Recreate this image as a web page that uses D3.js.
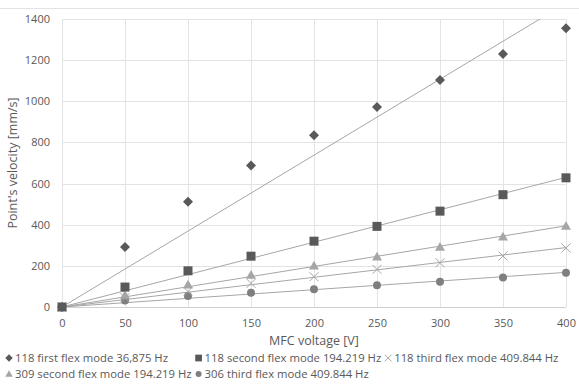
<!DOCTYPE html>
<html><head><meta charset="utf-8">
<script src="https://cdn.jsdelivr.net/npm/d3@7"></script>
<style>
body{margin:0;background:#fff;}
text{font-family:"Open Sans","Liberation Sans",sans-serif;fill:#595959;}
</style></head>
<body><svg id="c" width="579" height="387"></svg>
<script>
const voltages = [0, 50, 100, 150, 200, 250, 300, 350, 400];
const s118first  = [0, 292, 512, 688, 835, 972, 1103, 1230, 1355];
const s118second = [0, 97, 176, 247, 320, 392, 466, 546, 628];
const s118third  = [0, 45, 75, 115, 147, 183, 215, 248, 287];
const s309second = [0, 58, 108, 155, 200, 244, 292, 342, 394];
const s306third  = [0, 31, 54, 69, 86, 106, 123, 144, 166];
const xTicks = [0, 50, 100, 150, 200, 250, 300, 350, 400];
const yTicks = [0, 200, 400, 600, 800, 1000, 1200, 1400];
const seriesNames = ["118 first flex mode 36,875 Hz","118 second flex mode 194.219 Hz","118 third flex mode 409.844 Hz","309 second flex mode 194.219 Hz","306 third flex mode 409.844 Hz"];

const series = [
  {name:seriesNames[0], vals:s118first, sym:"diamond", r:5, color:"#595959"},
  {name:seriesNames[1], vals:s118second, sym:"square", r:4.5, color:"#595959"},
  {name:seriesNames[2], vals:s118third, sym:"x", r:4.5, color:"#a6a6a6"},
  {name:seriesNames[3], vals:s309second, sym:"triangle", r:5, color:"#a6a6a6"},
  {name:seriesNames[4], vals:s306third, sym:"circle", r:4, color:"#7f7f7f"}
];

const svg = d3.select("#c");
const m = {l:62, r:13, t:19, b:80};
const W = 579, H = 387;
const x = d3.scaleLinear().domain([0,400]).range([m.l, W-m.r]);
const y = d3.scaleLinear().domain([0,1400]).range([H-m.b, m.t]);

svg.append("line").attr("x1",0).attr("x2",W).attr("y1",8.5).attr("y2",8.5).attr("stroke","#e3e3e3");

svg.append("defs").append("clipPath").attr("id","clip").append("rect")
  .attr("x",m.l).attr("y",m.t).attr("width",W-m.r-m.l).attr("height",H-m.b-m.t);

svg.append("g").selectAll("line").data(yTicks).join("line")
  .attr("x1",m.l).attr("x2",W-m.r).attr("y1",d=>Math.round(y(d))+0.5).attr("y2",d=>Math.round(y(d))+0.5)
  .attr("stroke",d=>d===0?"#d0d0d0":"#e3e3e3");
svg.append("g").selectAll("line").data(xTicks).join("line")
  .attr("y1",m.t).attr("y2",H-m.b).attr("x1",d=>Math.round(x(d))+0.5).attr("x2",d=>Math.round(x(d))+0.5)
  .attr("stroke","#e3e3e3");

const xa = svg.append("g").attr("transform",`translate(0,${H-m.b})`)
  .call(d3.axisBottom(x).tickValues(xTicks).tickFormat(d3.format("d")).tickSize(0).tickPadding(12));
xa.select(".domain").remove();
xa.selectAll("text").style("font-size","11px").attr("fill","#595959");
const ya = svg.append("g").attr("transform",`translate(${m.l},0)`)
  .call(d3.axisLeft(y).tickValues(yTicks).tickFormat(d3.format("d")).tickSize(0).tickPadding(12));
ya.select(".domain").remove();
ya.selectAll("text").style("font-size","11px").attr("fill","#595959");

svg.append("text").attr("x",(m.l+W-m.r)/2).attr("y",345).attr("text-anchor","middle")
  .style("font-size","12.5px").text("MFC voltage [V]");
svg.append("text").attr("transform",`translate(17,${(m.t+H-m.b)/2}) rotate(-90)`).attr("text-anchor","middle")
  .style("font-size","12.5px").text("Point's velocity [mm/s]");

// trendlines (linear, zero intercept) from the data
const gl = svg.append("g").attr("clip-path","url(#clip)");
series.forEach(s=>{
  let sxy=0, sxx=0;
  voltages.forEach((v,i)=>{sxy+=v*s.vals[i]; sxx+=v*v;});
  const k = sxy/sxx;
  gl.append("line").attr("x1",x(0)).attr("y1",y(0)).attr("x2",x(400)).attr("y2",y(400*k))
    .attr("stroke","#a6a6a6").attr("stroke-width",1);
});

function drawMarker(g, s, cx, cy, scale){
  const r = s.r*scale;
  if(s.sym==="x"){
    g.append("path").attr("d",`M${cx-r},${cy-r}L${cx+r},${cy+r}M${cx-r},${cy+r}L${cx+r},${cy-r}`)
      .attr("stroke",s.color).attr("stroke-width",1).attr("fill","none");
    return;
  }
  let d;
  if(s.sym==="diamond") d=`M${cx},${cy-r}L${cx+r},${cy}L${cx},${cy+r}L${cx-r},${cy}Z`;
  else if(s.sym==="square") d=`M${cx-r},${cy-r}h${2*r}v${2*r}h${-2*r}Z`;
  else if(s.sym==="triangle") d=`M${cx},${cy-r}L${cx+r},${cy+r*0.75}L${cx-r},${cy+r*0.75}Z`;
  else d=`M${cx-r},${cy}a${r},${r} 0 1,0 ${2*r},0a${r},${r} 0 1,0 ${-2*r},0`;
  g.append("path").attr("d",d).attr("fill",s.color);
}
const gm = svg.append("g");
[4,2,3,1,0].forEach(si=>{
  const s = series[si];
  voltages.forEach((v,i)=>drawMarker(gm, s, x(v), y(s.vals[i]), 1));
});

// legend: two rows, flowing columns
const rows = [[0,1,2],[3,4]];
const rowY = [362, 378];
const fs = "11.3px";
function textW(t){
  const n = svg.append("text").style("font-size",fs).text(t);
  const w = n.node().getComputedTextLength(); n.remove(); return w;
}
const itemW = i => 7 + textW(series[i].name) + 6;
const colX = [9];
colX[1] = colX[0] + Math.max(itemW(0), itemW(3));
colX[2] = colX[1] + itemW(1);
rows.forEach((r,ri)=>{
  r.forEach((si,ci)=>{
    const s = series[si];
    const lx = colX[ci];
    drawMarker(svg, s, lx, rowY[ri]-4, 0.75);
    svg.append("text").attr("x",lx+6).attr("y",rowY[ri]).style("font-size",fs).text(s.name);
  });
});
</script></body></html>
